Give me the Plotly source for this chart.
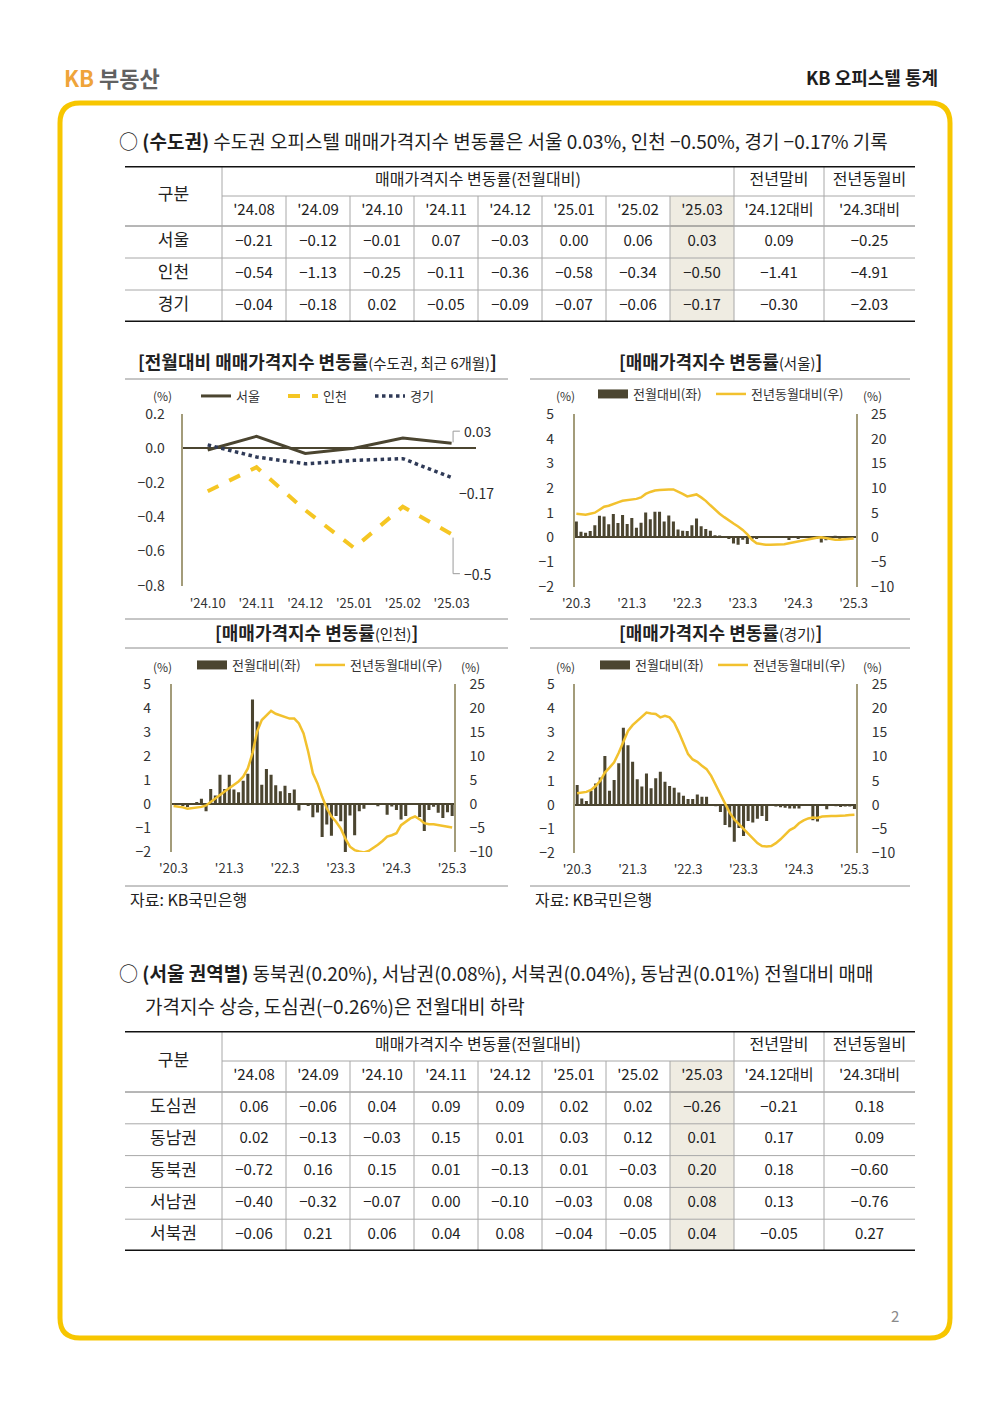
import plotly.graph_objects as go

# Page is 1000x1414; the browser body adds an 8px margin, so the figure is 992x1406
OFF = 8
W, H = 1000 - OFF, 1414 - OFF
def px(x): return (x - OFF) / W
def py(y): return 1 - (y - OFF) / H

FONT = "Noto Sans CJK KR"
DARK = "#4B4530"
GOLD = "#F2C12E"
NAVY = "#2F3A57"
AXIS = "#A39C7A"
TXT = "#2B2B2B"
MINUS = "\u2212"

def fmt(v, spec=".2f"):
    return format(v, spec).replace("-", MINUS)

# ---------------- DATA ----------------
# Table 1 (수도권)
t_months = ["'24.08", "'24.09", "'24.10", "'24.11", "'24.12", "'25.01", "'25.02", "'25.03"]
t_extra_hdr = ["'24.12대비", "'24.3대비"]
region1 = ["서울", "인천", "경기"]
seoul_mom8 = [-0.21, -0.12, -0.01, 0.07, -0.03, 0.00, 0.06, 0.03]
incheon_mom8 = [-0.54, -1.13, -0.25, -0.11, -0.36, -0.58, -0.34, -0.50]
gyeonggi_mom8 = [-0.04, -0.18, 0.02, -0.05, -0.09, -0.07, -0.06, -0.17]
ytd1 = [0.09, -1.41, -0.30]
yoy1 = [-0.25, -4.91, -2.03]

# Table 2 (서울 권역별)
region2 = ["도심권", "동남권", "동북권", "서남권", "서북권"]
dosim = [0.06, -0.06, 0.04, 0.09, 0.09, 0.02, 0.02, -0.26]
dongnam = [0.02, -0.13, -0.03, 0.15, 0.01, 0.03, 0.12, 0.01]
dongbuk = [-0.72, 0.16, 0.15, 0.01, -0.13, 0.01, -0.03, 0.20]
seonam = [-0.40, -0.32, -0.07, 0.00, -0.10, -0.03, 0.08, 0.08]
seobuk = [-0.06, 0.21, 0.06, 0.04, 0.08, -0.04, -0.05, 0.04]
ytd2 = [-0.21, 0.17, 0.18, 0.13, -0.05]
yoy2 = [0.18, 0.09, -0.60, -0.76, 0.27]

# Monthly series, '20.3 ~ '25.3 (61 months)
month_ticks = ["'20.3", "'21.3", "'22.3", "'23.3", "'24.3", "'25.3"]
seoul_mom = [0.64, 0.23, 0.19, 0.26, 0.49, 0.88, 0.85, 0.53, 0.95, 0.58,
             0.91, 0.54, 0.78, 0.39, 0.59, 1.01, 0.73, 1.04, 1.04, 0.64,
             0.89, 0.64, 0.32, 0.27, 0.26, 0.49, 0.76, 0.45, 0.34, 0.27,
             0.09, 0.08, 0.01, -0.05, -0.25, -0.30, -0.10, -0.27, -0.04, -0.05,
             -0.02, 0.02, 0.01, 0.03, -0.01, 0.03, -0.11, 0.01, -0.03, -0.01,
             -0.02, 0.01, -0.03, -0.21, -0.12, -0.01, 0.07, -0.03, 0.00, 0.06, 0.03]
seoul_yoy = [4.8, 4.7, 4.6, 4.8, 5.0, 5.6, 6.2, 6.4, 6.8, 7.1,
             7.4, 7.5, 7.6, 7.8, 8.1, 8.8, 9.2, 9.5, 9.6, 9.7,
             9.7, 9.7, 9.3, 8.8, 8.3, 8.5, 8.7, 8.1, 7.4, 6.5,
             5.6, 4.8, 4.1, 3.4, 2.8, 2.2, 1.5, 0.6, -0.5, -1.2,
             -1.4, -1.5, -1.5, -1.5, -1.5, -1.4, -1.2, -1.0, -0.8, -0.6,
             -0.4, -0.2, -0.1, 0.0, -0.2, -0.4, -0.5, -0.5, -0.4, -0.4, -0.25]
incheon_mom = [-0.03, -0.03, -0.05, -0.12, -0.02, 0.07, 0.22, -0.30, 0.63, 0.35,
               1.22, 0.63, 1.22, 0.60, 0.49, 0.97, 1.26, 4.35, 3.44, 0.80,
               1.46, 1.22, 0.78, 0.53, 0.76, 0.46, 0.60, -0.27, -0.02, -0.08,
               -0.55, -0.35, -1.38, -0.85, -1.32, -0.50, -0.72, -2.05, -0.48, -1.30,
               -0.30, -0.20, -0.04, 0.00, -0.09, -0.02, -0.45, -0.10, -0.25, -0.65,
               -0.50, 0.00, 0.00, -0.54, -1.13, -0.25, -0.11, -0.36, -0.58, -0.34, -0.50]
incheon_yoy = [-0.4, -0.5, -0.7, -1.0, -0.9, -0.8, -0.6, -0.3, 0.5, 1.2,
               1.9, 2.6, 3.3, 4.0, 4.7, 5.7, 7.4, 10.6, 15.1, 17.5,
               18.5, 19.4, 18.8, 18.5, 18.1, 17.8, 17.8, 16.8, 14.7, 10.9,
               6.4, 4.3, 1.5, -0.9, -2.6, -3.7, -5.1, -7.2, -8.9, -9.6,
               -9.9, -10.1, -9.8, -9.2, -8.5, -7.7, -6.8, -6.5, -6.1, -4.4,
               -3.7, -3.0, -2.6, -3.2, -4.0, -4.2, -4.2, -4.4, -4.6, -4.7, -4.91]
gyeonggi_mom = [0.82, 0.27, 0.16, 0.59, 0.89, 1.13, 2.02, 0.59, 1.03, 1.72,
                3.19, 2.47, 1.79, 1.06, 0.76, 1.30, 0.69, 1.10, 1.37, 0.96,
                0.78, 0.71, 0.51, 0.38, 0.25, 0.25, 0.43, 0.34, 0.34, -0.03,
                -0.05, -0.29, -0.83, -0.92, -1.52, -0.95, -1.28, -0.66, -0.73, -0.57,
                -0.46, -0.66, -0.03, -0.06, -0.10, -0.12, -0.15, -0.15, -0.15, -0.02,
                -0.02, -0.63, -0.69, -0.04, -0.18, 0.02, -0.05, -0.09, -0.07, -0.06, -0.17]
gyeonggi_yoy = [2.4, 2.6, 2.7, 3.1, 3.9, 5.0, 6.7, 7.7, 8.8, 10.8,
                13.2, 15.3, 16.5, 17.4, 18.4, 19.1, 18.9, 18.8, 18.1, 18.4,
                18.1, 17.0, 15.0, 12.6, 10.5, 9.4, 8.9, 8.1, 7.4, 6.0,
                4.1, 2.2, 0.3, -1.6, -3.0, -4.0, -5.0, -6.1, -7.1, -7.9,
                -8.5, -8.6, -8.5, -7.9, -7.1, -6.1, -5.2, -4.7, -3.8, -3.2,
                -2.8, -2.6, -2.7, -2.4, -2.3, -2.3, -2.3, -2.3, -2.2, -2.1, -2.03]

# ---------------- FIGURE ----------------
fig = go.Figure()
shapes = []
annotations = []

def ann(x, y, text, size=14, color=TXT, xanchor="center", yanchor="middle", xref="paper", yref="paper", weight=None, **kw):
    f = dict(family=FONT, size=size, color=color)
    if weight:
        f["weight"] = weight
    annotations.append(dict(x=x, y=y, text=text, xref=xref, yref=yref, showarrow=False,
                            xanchor=xanchor, yanchor=yanchor, font=f, **kw))

def hline(x0, x1, y, color="#8C8C8C", width=1):
    shapes.append(dict(type="line", xref="paper", yref="paper", x0=px(x0), x1=px(x1),
                       y0=py(y), y1=py(y), line=dict(color=color, width=width)))

# ---- Chart A: recent 6 months line chart
recent = t_months[2:]
seoul_6 = seoul_mom8[2:]
incheon_6 = incheon_mom8[2:]
gyeonggi_6 = gyeonggi_mom8[2:]
fig.add_trace(go.Scatter(x=recent, y=seoul_6, mode="lines", name="서울", legendwidth=42,
                         line=dict(color=DARK, width=3), xaxis="x", yaxis="y", legend="legend"))
fig.add_trace(go.Scatter(x=recent, y=incheon_6, mode="lines", name="인천", legendwidth=42,
                         line=dict(color="#F5C623", width=4, dash="dash"), xaxis="x", yaxis="y", legend="legend"))
fig.add_trace(go.Scatter(x=recent, y=gyeonggi_6, mode="lines", name="경기", legendwidth=42,
                         line=dict(color=NAVY, width=3.5, dash="dot"), xaxis="x", yaxis="y", legend="legend"))

# end-value labels
last_i = len(recent) - 1
lead = dict(color="#9A9A9A", width=1)
shapes += [
    dict(type="line", xref="x", yref="y", x0=last_i + 0.03, x1=last_i + 0.03, y0=seoul_6[-1] + 0.005, y1=seoul_6[-1] + 0.07, line=lead),
    dict(type="line", xref="x", yref="y", x0=last_i + 0.03, x1=last_i + 0.17, y0=seoul_6[-1] + 0.07, y1=seoul_6[-1] + 0.07, line=lead),
    dict(type="line", xref="x", yref="y", x0=last_i + 0.03, x1=last_i + 0.03, y0=incheon_6[-1] - 0.02, y1=incheon_6[-1] - 0.23, line=lead),
    dict(type="line", xref="x", yref="y", x0=last_i + 0.03, x1=last_i + 0.17, y0=incheon_6[-1] - 0.23, y1=incheon_6[-1] - 0.23, line=lead),
]
ann(last_i + 0.22, seoul_6[-1] + 0.07, fmt(seoul_6[-1], "g"), size=14, xanchor="left", xref="x", yref="y")
ann(last_i + 0.12, gyeonggi_6[-1] - 0.09, fmt(gyeonggi_6[-1], "g"), size=14, xanchor="left", xref="x", yref="y")
ann(last_i + 0.22, incheon_6[-1] - 0.23, fmt(incheon_6[-1], "g"), size=14, xanchor="left", xref="x", yref="y")

# ---- Charts B, C, D: monthly bar + YoY line
month_idx = list(range(len(seoul_mom)))
tickvals_m = month_idx[::12]
series = [
    ("2", "2", "3", "legend2", seoul_mom, seoul_yoy),
    ("3", "4", "5", "legend3", incheon_mom, incheon_yoy),
    ("4", "6", "7", "legend4", gyeonggi_mom, gyeonggi_yoy),
]
for xa, yl, yr, lg, mom, yoy in series:
    fig.add_trace(go.Scatter(x=[None], y=[None], mode="lines", name="전월대비(좌)", legendwidth=73,
                             line=dict(color=DARK, width=9), xaxis="x" + xa, yaxis="y" + yl,
                             legend=lg, hoverinfo="skip"))
    fig.add_trace(go.Bar(x=month_idx, y=mom, marker=dict(color=DARK, line=dict(width=0)),
                         width=0.66, showlegend=False, xaxis="x" + xa, yaxis="y" + yl, legend=lg))
    fig.add_trace(go.Scatter(x=month_idx, y=yoy, mode="lines", name="전년동월대비(우)", legendwidth=120,
                             line=dict(color=GOLD, width=2.5), xaxis="x" + xa, yaxis="y" + yr, legend=lg))

# ---- Tables
COL_W = [97, 64, 64, 64, 64, 64, 64, 64, 64, 90, 91]
edges = [0]
for w in COL_W:
    edges.append(edges[-1] + w)
TOTAL_W = edges[-1]

def draw_table(xa, ya, hdr_h, row_h, labels, rows, ytd, yoy):
    n = len(labels)
    total_h = hdr_h[0] + hdr_h[1] + row_h * n
    xs, ys, texts, sizes = [], [], [], []
    def cell(x, y, t, s=15):
        xs.append(x); ys.append(y); texts.append(t); sizes.append(s)
    h1 = hdr_h[0]
    h2 = hdr_h[0] + hdr_h[1]
    cell((edges[0] + edges[1]) / 2, h2 / 2, "구분", 17)
    cell((edges[1] + edges[9]) / 2, h1 / 2, "매매가격지수 변동률(전월대비)", 16)
    cell((edges[9] + edges[10]) / 2, h1 / 2, "전년말비", 16)
    cell((edges[10] + edges[11]) / 2, h1 / 2, "전년동월비", 16)
    hdr2 = t_months + t_extra_hdr
    for j, t in enumerate(hdr2):
        cell((edges[j + 1] + edges[j + 2]) / 2, (h1 + h2) / 2, t, 15)
    for i, lab in enumerate(labels):
        yc = h2 + row_h * (i + 0.5)
        cell((edges[0] + edges[1]) / 2, yc, lab, 17)
        vals = rows[i] + [ytd[i], yoy[i]]
        for j, v in enumerate(vals):
            cell((edges[j + 1] + edges[j + 2]) / 2, yc, fmt(v), 15)
    fig.add_trace(go.Scatter(x=xs, y=ys, text=texts, mode="text", textposition="middle center",
                             textfont=dict(family=FONT, size=sizes, color="#222222"),
                             xaxis="x" + xa, yaxis="y" + ya, showlegend=False, hoverinfo="skip"))
    xr, yr = "x" + xa, "y" + ya
    shapes.append(dict(type="rect", xref=xr, yref=yr, x0=edges[8], x1=edges[9], y0=h1, y1=total_h,
                       fillcolor="#EFECE2", line=dict(width=0), layer="below"))
    gray = dict(color="#A8A8A8", width=1)
    shapes.append(dict(type="line", xref=xr, yref=yr, x0=edges[1], x1=TOTAL_W, y0=h1, y1=h1, line=gray))
    shapes.append(dict(type="line", xref=xr, yref=yr, x0=0, x1=TOTAL_W, y0=h2, y1=h2, line=dict(color="#6E6E6E", width=1)))
    for i in range(1, n):
        yy = h2 + row_h * i
        shapes.append(dict(type="line", xref=xr, yref=yr, x0=0, x1=TOTAL_W, y0=yy, y1=yy, line=gray))
    for k in (1, 9, 10):
        shapes.append(dict(type="line", xref=xr, yref=yr, x0=edges[k], x1=edges[k], y0=0, y1=total_h, line=gray))
    for k in range(2, 9):
        shapes.append(dict(type="line", xref=xr, yref=yr, x0=edges[k], x1=edges[k], y0=h1, y1=total_h, line=gray))
    for yy in (0, total_h):
        shapes.append(dict(type="line", xref=xr, yref=yr, x0=0, x1=TOTAL_W, y0=yy, y1=yy,
                           line=dict(color="#111111", width=2.8)))
    return total_h

t1_top = 166
t1_h = draw_table("5", "8", (30, 30), 32, region1,
                  [seoul_mom8, incheon_mom8, gyeonggi_mom8], ytd1, yoy1)
t2_top = 1031
t2_h = draw_table("6", "9", (30, 31), 31.8, region2,
                  [dosim, dongnam, dongbuk, seonam, seobuk], ytd2, yoy2)

# ---------------- LAYOUT ----------------
tickfont = dict(family=FONT, size=14, color="#333333")
xtickfont = dict(family=FONT, size=13, color="#333333")

def yax(domain, rng, dtick, anchor, side="left", overlaying=None, standoff=14, tickformat=None, zeroline=False):
    d = dict(domain=domain, range=rng, dtick=dtick, anchor=anchor, side=side,
             showline=True, linecolor=AXIS, linewidth=1.5, showgrid=False,
             zeroline=zeroline, zerolinecolor=DARK, zerolinewidth=1.5, automargin=False,
             ticks="", tickfont=tickfont, ticklabelstandoff=standoff, fixedrange=True)
    if overlaying:
        d["overlaying"] = overlaying
        d.pop("domain")
    if tickformat:
        d["tickformat"] = tickformat
    return d

def xax_m(x0, x1, anchor):
    return dict(domain=[px(x0), px(x1)], range=[-0.4, len(month_idx) - 0.6], anchor=anchor,
                tickvals=tickvals_m, ticktext=month_ticks, showline=False, showgrid=False,
                zeroline=False, ticks="", tickfont=xtickfont, ticklabelstandoff=7,
                automargin=False, fixedrange=True)

def legend_at(x, y):
    return dict(x=px(x), y=py(y), xanchor="left", yanchor="middle", orientation="h",
                font=dict(family=FONT, size=13, color="#333333"), bgcolor="rgba(0,0,0,0)",
                itemclick=False, itemdoubleclick=False)

hidden = dict(visible=False, fixedrange=True, automargin=False)
layout = dict(
    template="none",
    width=W, height=H, margin=dict(l=0, r=0, t=0, b=0, pad=0, autoexpand=False),
    paper_bgcolor="white", plot_bgcolor="rgba(0,0,0,0)",
    font=dict(family=FONT, color=TXT), showlegend=True, barmode="overlay",
    xaxis=dict(domain=[px(183.3), px(476)], type="category", range=[-0.5, 5.5], anchor="y",
               showline=False, showgrid=False, zeroline=False, ticks="", tickfont=xtickfont,
               ticklabelstandoff=8, automargin=False, fixedrange=True),
    yaxis=yax([py(585.7), py(414)], [-0.8, 0.2], 0.2, "x", standoff=14, tickformat=".1f", zeroline=True),
    xaxis2=xax_m(574.5, 855.5, "y2"),
    yaxis2=yax([py(586.7), py(414)], [-2, 5], 1, "x2", zeroline=True, standoff=16),
    yaxis3=yax(None, [-10, 25], 5, "x2", side="right", overlaying="y2", standoff=11),
    xaxis3=xax_m(171.7, 454, "y4"),
    yaxis4=yax([py(852), py(684)], [-2, 5], 1, "x3", zeroline=True, standoff=16),
    yaxis5=yax(None, [-10, 25], 5, "x3", side="right", overlaying="y4", standoff=11),
    xaxis4=xax_m(575.3, 856.3, "y6"),
    yaxis6=yax([py(853.3), py(684)], [-2, 5], 1, "x4", zeroline=True, standoff=16),
    yaxis7=yax(None, [-10, 25], 5, "x4", side="right", overlaying="y6", standoff=11),
    xaxis5=dict(domain=[px(125), px(915)], range=[0, TOTAL_W], anchor="y8", **hidden),
    yaxis8=dict(domain=[py(t1_top + t1_h), py(t1_top)], range=[t1_h, 0], anchor="x5", **hidden),
    xaxis6=dict(domain=[px(125), px(915)], range=[0, TOTAL_W], anchor="y9", **hidden),
    yaxis9=dict(domain=[py(t2_top + t2_h), py(t2_top)], range=[t2_h, 0], anchor="x6", **hidden),
    legend=legend_at(196, 396),
    legend2=legend_at(593, 394),
    legend3=legend_at(192, 665),
    legend4=legend_at(595, 665),
)

# ---- page decoration
ann(px(62), py(77), "<b><span style='color:#EFA43A'>KB</span> <span style='color:#616161'>부동산</span></b>",
    size=22, xanchor="left")
ann(px(940), py(77), "KB 오피스텔 통계", size=18, color="#1E1E1E", xanchor="right", weight=600)

x0b, x1b, topb, botb = px(60), px(950), py(103), py(1338)
rx, ry = 20 / W, 20 / H
border_path = (f"M {x0b + rx},{topb} L {x1b - rx},{topb} Q {x1b},{topb} {x1b},{topb - ry} "
               f"L {x1b},{botb + ry} Q {x1b},{botb} {x1b - rx},{botb} "
               f"L {x0b + rx},{botb} Q {x0b},{botb} {x0b},{botb + ry} "
               f"L {x0b},{topb - ry} Q {x0b},{topb} {x0b + rx},{topb} Z")
shapes.append(dict(type="path", xref="paper", yref="paper", path=border_path,
                   line=dict(color="#F7C600", width=5)))

ann(px(117), py(140),
    f"○ <b>(수도권)</b> 수도권 오피스텔 매매가격지수 변동률은 서울 {fmt(seoul_mom8[-1])}%, "
    f"인천 {fmt(incheon_mom8[-1])}%, 경기 {fmt(gyeonggi_mom8[-1])}% 기록",
    size=19, color="#1E1E1E", xanchor="left")

sub = "<span style='font-size:14.5px'>"
ann(px(317), py(361), f"<b>[전월대비 매매가격지수 변동률</b>{sub}(수도권, 최근 6개월)</span><b>]</b>", size=18, color="#222222")
ann(px(720), py(361), f"<b>[매매가격지수 변동률</b>{sub}(서울)</span><b>]</b>", size=18, color="#222222")
ann(px(316), py(632), f"<b>[매매가격지수 변동률</b>{sub}(인천)</span><b>]</b>", size=18, color="#222222")
ann(px(720), py(632), f"<b>[매매가격지수 변동률</b>{sub}(경기)</span><b>]</b>", size=18, color="#222222")

for yy in (379, 619, 648, 886):
    hline(125, 508, yy)
    hline(530, 910, yy)

for (xx, yy) in [(162, 395), (565, 395), (872, 395), (162, 666), (470, 666), (565, 666), (872, 666)]:
    ann(px(xx), py(yy), "(%)", size=12, color="#333333")

ann(px(128), py(899), "자료: KB국민은행", size=16, color="#222222", xanchor="left")
ann(px(533), py(899), "자료: KB국민은행", size=16, color="#222222", xanchor="left")

top4 = [(region2[2], dongbuk[-1]), (region2[3], seonam[-1]), (region2[4], seobuk[-1]), (region2[1], dongnam[-1])]
line1 = ", ".join(f"{r}({fmt(v)}%)" for r, v in top4)
ann(px(117), py(972), f"○ <b>(서울 권역별)</b> {line1} 전월대비 매매", size=19, color="#1E1E1E", xanchor="left")
ann(px(143), py(1005), f"가격지수 상승, {region2[0]}({fmt(dosim[-1])}%)은 전월대비 하락", size=19, color="#1E1E1E", xanchor="left")

ann(px(895), py(1315), "2", size=15, color="#8A8A8A")

layout["shapes"] = shapes
layout["annotations"] = annotations
fig.update_layout(**layout)
fig.write_html("out.html")
